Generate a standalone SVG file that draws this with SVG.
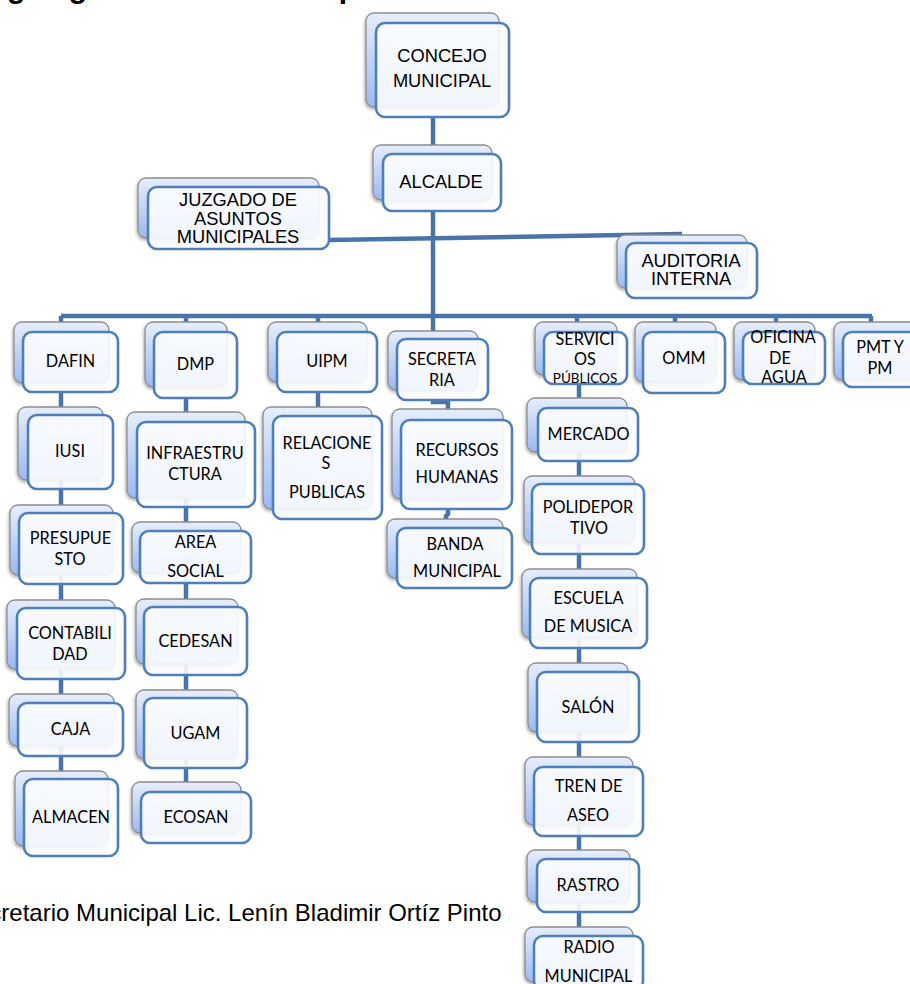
<svg xmlns="http://www.w3.org/2000/svg" width="910" height="984" viewBox="0 0 910 984">
<defs>
<linearGradient id="gb" x1="0" y1="0" x2="0" y2="1">
<stop offset="0" stop-color="#e6eefc"/>
<stop offset="1" stop-color="#9bb9f1"/>
</linearGradient>
<filter id="sh" x="-10%" y="-10%" width="130%" height="130%">
<feDropShadow dx="-1" dy="2" stdDeviation="1.5" flood-color="#000" flood-opacity="0.3"/>
</filter>
<style>
.b{fill:url(#gb);stroke:#8c8c8c;stroke-width:1.3;filter:url(#sh)}
.f{fill:#fbfcfe;fill-opacity:0.9;stroke:#4f7fba;stroke-width:2.6}
.a{font-family:"Liberation Sans",Arial,sans-serif;font-size:18.3px;text-anchor:middle;fill:#000}
.c{font-family:Lato,"Open Sans",sans-serif;font-size:16.3px;text-anchor:middle;fill:#000}
.s{font-size:13.5px}
.ln{stroke:#4874aa;stroke-width:4.5;fill:none}
.title{font-family:"Liberation Sans",Arial,sans-serif;font-size:30px;font-weight:bold;fill:#000}
.foot{font-family:"Liberation Sans",Arial,sans-serif;font-size:24px;fill:#000}
</style>
</defs>
<rect width="910" height="984" fill="#fff"/>
<text class="title" x="-28" y="-2">Organigrama de la Municipalidad</text>

<g id="connectors">
<path class="ln" d="M433,117 V154"/>
<path class="ln" d="M433,211 V339"/>
<path class="ln" d="M329,240 L682,234"/>
<path class="ln" d="M61,316 H872"/>
<path class="ln" d="M61,316 V332 M186,316 V332 M318,316 V332 M577,316 V332 M675,316 V332 M776,316 V332 M871,316 V332"/>
<path class="ln" d="M61,392 V771"/>
<path class="ln" d="M186,398 V782"/>
<path class="ln" d="M318,392 V407"/>
<path class="ln" d="M433,400 V402 H448 V409"/>
<path class="ln" d="M448,509 V514 L446,516 V519"/>
<path class="ln" d="M579,384 V927"/>
</g>

<g id="concejo"><rect class="b" x="366" y="13" width="133" height="94" rx="8"/><rect class="f" x="376" y="23" width="133" height="94" rx="9"/><text class="a" x="442" y="62">CONCEJO</text><text class="a" x="442" y="87">MUNICIPAL</text></g>
<g id="alcalde"><rect class="b" x="373" y="145" width="119" height="55" rx="8"/><rect class="f" x="383" y="154" width="118" height="57" rx="9"/><text class="a" x="441" y="188">ALCALDE</text></g>
<g id="juzgado"><rect class="b" x="138" y="178" width="181" height="60" rx="8"/><rect class="f" x="148" y="187" width="181" height="62" rx="9"/><text class="a" x="238" y="206">JUZGADO DE</text><text class="a" x="238" y="225">ASUNTOS</text><text class="a" x="238" y="243">MUNICIPALES</text></g>
<g id="auditoria"><rect class="b" x="617" y="235" width="130" height="53" rx="8"/><rect class="f" x="626" y="243" width="131" height="55" rx="9"/><text class="a" x="691" y="267">AUDITORIA</text><text class="a" x="691" y="285">INTERNA</text></g>

<g id="dafin"><rect class="b" x="14" y="322" width="95" height="61" rx="8"/><rect class="f" x="23" y="332" width="95" height="60" rx="9"/><text class="c" x="70.5" y="367">DAFIN</text></g>
<g id="dmp"><rect class="b" x="145" y="322" width="82" height="65" rx="8"/><rect class="f" x="154" y="332" width="83" height="66" rx="9"/><text class="c" x="195.5" y="370">DMP</text></g>
<g id="uipm"><rect class="b" x="268" y="322" width="99" height="60" rx="8"/><rect class="f" x="277" y="332" width="100" height="60" rx="9"/><text class="c" x="327" y="367">UIPM</text></g>
<g id="secretaria"><rect class="b" x="388" y="331" width="90" height="59" rx="8"/><rect class="f" x="397" y="339" width="91" height="61" rx="9"/><text class="c" x="442" y="365">SECRETA</text><text class="c" x="442" y="386">RIA</text></g>
<g id="servicios"><rect class="b" x="535" y="322" width="82" height="53" rx="8"/><rect class="f" x="544" y="332" width="83" height="52" rx="9"/><text class="c" x="585" y="345">SERVICI</text><text class="c" x="585" y="365">OS</text><text class="c s" x="585" y="383">PÚBLICOS</text></g>
<g id="omm"><rect class="b" x="635" y="322" width="81" height="60" rx="8"/><rect class="f" x="643" y="332" width="82" height="61" rx="9"/><text class="c" x="684" y="364">OMM</text></g>
<g id="oficina"><rect class="b" x="734" y="322" width="81" height="58" rx="8"/><rect class="f" x="743" y="332" width="82" height="52" rx="9"/><text class="c" x="783" y="343">OFICINA</text><text class="c" x="780" y="364">DE</text><text class="c" x="784" y="383">AGUA</text></g>
<g id="pmt"><rect class="b" x="834" y="322" width="85" height="58" rx="8"/><rect class="f" x="843" y="332" width="84" height="55" rx="9"/><text class="c" x="880" y="353">PMT Y</text><text class="c" x="880" y="374">PM</text></g>

<g id="iusi"><rect class="b" x="18" y="407" width="85" height="73" rx="8"/><rect class="f" x="28" y="415" width="85" height="74" rx="9"/><text class="c" x="70" y="457">IUSI</text></g>
<g id="presupuesto"><rect class="b" x="10" y="505" width="103" height="70" rx="8"/><rect class="f" x="19" y="513" width="104" height="71" rx="9"/><text class="c" x="70.5" y="544">PRESUPUE</text><text class="c" x="70" y="565">STO</text></g>
<g id="contabilidad"><rect class="b" x="7" y="600" width="108" height="69" rx="8"/><rect class="f" x="17" y="608" width="108" height="71" rx="9"/><text class="c" x="70" y="639">CONTABILI</text><text class="c" x="70" y="660">DAD</text></g>
<g id="caja"><rect class="b" x="9" y="694" width="105" height="52" rx="8"/><rect class="f" x="18" y="703" width="105" height="53" rx="9"/><text class="c" x="70.5" y="735">CAJA</text></g>
<g id="almacen"><rect class="b" x="15" y="771" width="93" height="75" rx="8"/><rect class="f" x="24" y="779" width="94" height="77" rx="9"/><text class="c" x="71" y="823">ALMACEN</text></g>

<g id="infraestructura"><rect class="b" x="127" y="412" width="118" height="86" rx="8"/><rect class="f" x="137" y="422" width="118" height="85" rx="9"/><text class="c" x="195" y="459">INFRAESTRU</text><text class="c" x="195" y="480">CTURA</text></g>
<g id="area-social"><rect class="b" x="132" y="522" width="109" height="51" rx="8"/><rect class="f" x="140" y="531" width="111" height="52" rx="9"/><text class="c" x="195.5" y="548">AREA</text><text class="c" x="195.5" y="577">SOCIAL</text></g>
<g id="cedesan"><rect class="b" x="136" y="599" width="102" height="65" rx="8"/><rect class="f" x="144" y="607" width="103" height="68" rx="9"/><text class="c" x="195.5" y="647">CEDESAN</text></g>
<g id="ugam"><rect class="b" x="136" y="690" width="102" height="69" rx="8"/><rect class="f" x="144" y="698" width="103" height="70" rx="9"/><text class="c" x="195.5" y="739">UGAM</text></g>
<g id="ecosan"><rect class="b" x="132" y="782" width="109" height="51" rx="8"/><rect class="f" x="141" y="792" width="110" height="51" rx="9"/><text class="c" x="196" y="823">ECOSAN</text></g>

<g id="relaciones"><rect class="b" x="263" y="407" width="109" height="102" rx="8"/><rect class="f" x="273" y="416" width="109" height="103" rx="9"/><text class="c" x="327" y="449">RELACIONE</text><text class="c" x="326" y="469">S</text><text class="c" x="327" y="498">PUBLICAS</text></g>
<g id="recursos"><rect class="b" x="392" y="409" width="111" height="90" rx="8"/><rect class="f" x="401" y="420" width="111" height="89" rx="9"/><text class="c" x="457" y="456">RECURSOS</text><text class="c" x="457" y="483">HUMANAS</text></g>
<g id="banda"><rect class="b" x="387" y="519" width="116" height="59" rx="8"/><rect class="f" x="397" y="528" width="115" height="60" rx="9"/><text class="c" x="455" y="550">BANDA</text><text class="c" x="457" y="577">MUNICIPAL</text></g>

<g id="mercado"><rect class="b" x="527" y="398" width="100" height="54" rx="8"/><rect class="f" x="538" y="408" width="100" height="53" rx="9"/><text class="c" x="588.5" y="440">MERCADO</text></g>
<g id="polideportivo"><rect class="b" x="524" y="476" width="111" height="67" rx="8"/><rect class="f" x="532" y="484" width="112" height="70" rx="9"/><text class="c" x="588" y="513">POLIDEPOR</text><text class="c" x="589" y="534">TIVO</text></g>
<g id="escuela"><rect class="b" x="522" y="569" width="115" height="69" rx="8"/><rect class="f" x="530" y="578" width="117" height="70" rx="9"/><text class="c" x="588.5" y="604">ESCUELA</text><text class="c" x="588" y="632">DE MUSICA</text></g>
<g id="salon"><rect class="b" x="528" y="663" width="100" height="69" rx="8"/><rect class="f" x="537" y="672" width="102" height="70" rx="9"/><text class="c" x="588" y="713">SALÓN</text></g>
<g id="tren"><rect class="b" x="525" y="757" width="108" height="68" rx="8"/><rect class="f" x="534" y="767" width="109" height="69" rx="9"/><text class="c" x="588.5" y="792">TREN DE</text><text class="c" x="588" y="821">ASEO</text></g>
<g id="rastro"><rect class="b" x="527" y="850" width="103" height="52" rx="8"/><rect class="f" x="537" y="859" width="102" height="53" rx="9"/><text class="c" x="588" y="891">RASTRO</text></g>
<g id="radio"><rect class="b" x="525" y="927" width="108" height="55" rx="8"/><rect class="f" x="534" y="936" width="109" height="54" rx="9"/><text class="c" x="589" y="953">RADIO</text><text class="c" x="588.5" y="982">MUNICIPAL</text></g>

<text class="foot" x="-40" y="921">Secretario Municipal Lic. Lenín Bladimir Ortíz Pinto</text>
</svg>
